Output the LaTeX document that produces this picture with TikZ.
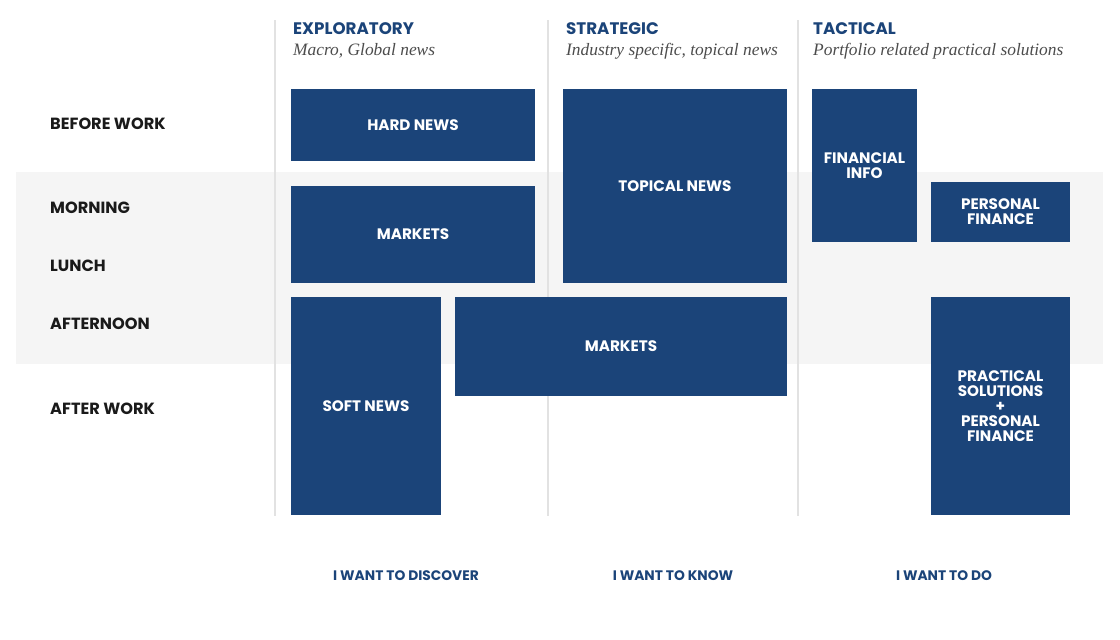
\documentclass[tikz,border=0pt]{standalone}
\usepackage{fontspec}
\newfontfamily\heavy{Poppins}
\newfontfamily\note{Liberation Serif}
\definecolor{navy}{HTML}{1B4479}
\definecolor{band}{HTML}{F5F5F5}
\definecolor{rule}{HTML}{E2E2E2}
\definecolor{ink}{HTML}{1A1A1A}
\begin{document}
\begin{tikzpicture}[x=1pt, y=-1pt,
  tile/.style={fill=navy, text=white, align=center, inner sep=0pt,
    font=\heavy\bfseries\fontsize{15.2}{15}\selectfont},
  rowlabel/.style={anchor=base west, inner sep=0pt, text=ink,
    font=\heavy\bfseries\fontsize{16.2}{18}\selectfont},
  colhead/.style={anchor=base west, inner sep=0pt, text=navy,
    font=\heavy\bfseries\fontsize{16.7}{18}\selectfont},
  colnote/.style={anchor=base west, inner sep=0pt, text=black!70,
    font=\note\itshape\fontsize{17.4}{19}\selectfont},
  colfoot/.style={anchor=base, inner sep=0pt, text=navy,
    font=\heavy\bfseries\fontsize{13.8}{15}\selectfont}]
	  \useasboundingbox (0,0) rectangle (1120,640);
	  \fill[band] (16,172) rectangle (1103,364);
	  \draw[rule, line width=1.5pt] (275,20) -- (275,516);
	  \draw[rule, line width=1.5pt] (548,20) -- (548,516);
	  \draw[rule, line width=1.5pt] (798,20) -- (798,516);
	  % column heads
	  \node[colhead] (explo) at (293,34) {EXPLORATORY};
	  \node[colnote] (explonote) at (293,55) {Macro, Global news};
	  \node[colhead] (strat) at (566,34) {STRATEGIC};
	  \node[colnote] (stratnote) at (566,55) {Industry specific, topical news};
	  \node[colhead] (tact) at (813,34) {TACTICAL};
	  \node[colnote] (tactnote) at (813,55) {Portfolio related practical solutions};
	  % rows
	  \node[rowlabel] (before) at (50,129) {BEFORE WORK};
	  \node[rowlabel] (morning) at (50,213) {MORNING};
	  \node[rowlabel] (lunch) at (50,271) {LUNCH};
	  \node[rowlabel] (afternoon) at (50,329) {AFTERNOON};
	  \node[rowlabel] (afterwork) at (50,414) {AFTER WORK};
	  % tiles
	  \node[tile, minimum width=244pt, minimum height=72pt] (hard) at (413,125) {HARD NEWS};
	  \node[tile, minimum width=244pt, minimum height=97pt] (marketsa) at (413,234.5) {MARKETS};
	  \node[tile, minimum width=224pt, minimum height=194pt] (topical) at (675,186) {TOPICAL NEWS};
	  \node[tile, minimum width=105pt, minimum height=153pt] (fininfo) at (864.5,165.5) {FINANCIAL\\INFO};
	  \node[tile, minimum width=139pt, minimum height=60pt] (persfin) at (1000.5,212) {PERSONAL\\FINANCE};
	  \node[tile, minimum width=150pt, minimum height=218pt] (soft) at (366,406) {SOFT NEWS};
	  \node[tile, minimum width=332pt, minimum height=99pt] (marketsb) at (621,346.5) {MARKETS};
	  \node[tile, minimum width=139pt, minimum height=218pt] (practical) at (1000.5,406) {PRACTICAL\\SOLUTIONS\\+\\PERSONAL\\FINANCE};
	  % feet
	  \node[colfoot] (discover) at (406,580) {I WANT TO DISCOVER};
	  \node[colfoot] (know) at (673,580) {I WANT TO KNOW};
	  \node[colfoot] (do) at (944,580) {I WANT TO DO};
	\end{tikzpicture}
\end{document}
